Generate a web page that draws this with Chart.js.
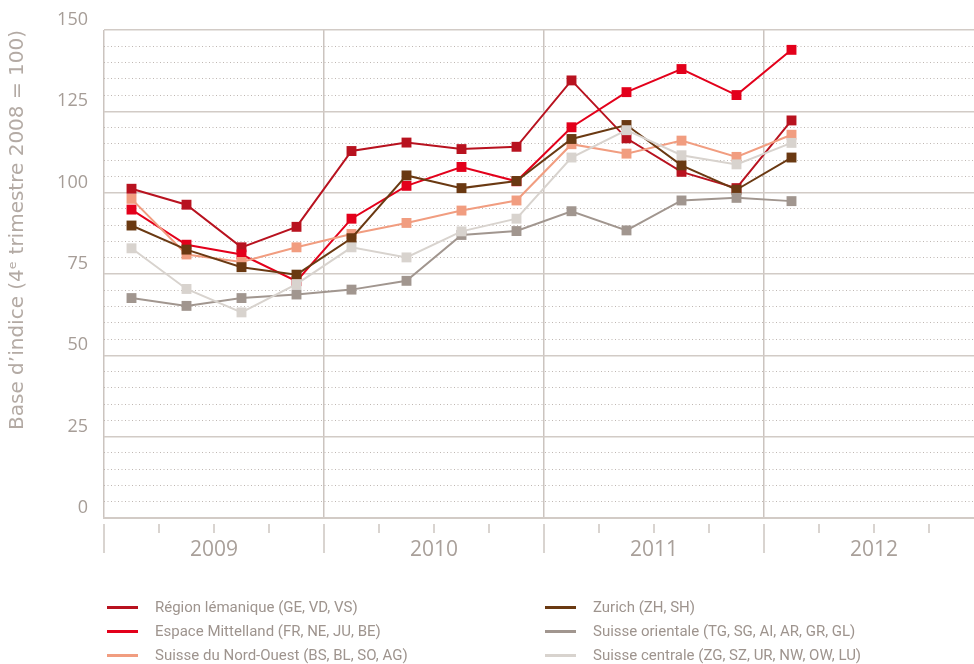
<!DOCTYPE html>
<html>
<head>
<meta charset="utf-8">
<script src="https://cdn.jsdelivr.net/npm/chart.js@4"></script>
<style>
  html, body { margin: 0; padding: 0; background: #fff; overflow: hidden; }
  #wrap { position: absolute; left: 0; top: 0; width: 974px; height: 570px; }
  #legend { position: absolute; left: 0; top: 0; width: 974px; height: 664px; pointer-events: none; }
  .item { position: absolute; height: 20px; line-height: 20px; white-space: nowrap;
          font-family: "Roboto", sans-serif; font-size: 15px; color: #9e948e; }
  .item .swatch { position: absolute; left: 0; top: 9px; width: 31px; height: 3px; }
  .item .txt { position: absolute; left: 48px; top: 0; }
</style>
</head>
<body>
<div id="wrap"><canvas id="chart" width="974" height="570"></canvas></div>
<div id="legend"></div>
<script>
// quarters 2009 T1 .. 2012 T1
var quarters = ['2009-T1','2009-T2','2009-T3','2009-T4','2010-T1','2010-T2','2010-T3','2010-T4',
                '2011-T1','2011-T2','2011-T3','2011-T4','2012-T1'];
var years = ['2009', '2010', '2011', '2012'];

var lemanique  = [101.2, 96.3, 83.2, 89.5, 112.8, 115.4, 113.4, 114.1, 134.5, 116.7, 106.4, 101.4, 122.2];
var mittelland = [94.8, 84.0, 81.0, 72.8, 92.0, 102.1, 107.9, 103.5, 120.1, 130.9, 138.0, 130.0, 143.9];
var nordOuest  = [98.1, 81.0, 78.7, 83.2, 87.3, 90.7, 94.5, 97.6, 114.9, 112.0, 116.0, 111.0, 117.8];
var zurich     = [89.9, 82.5, 77.1, 74.8, 86.0, 105.3, 101.4, 103.6, 116.5, 120.8, 108.4, 100.9, 110.8];
var orientale  = [67.6, 65.2, 67.6, 68.7, 70.2, 72.9, 87.0, 88.2, 94.3, 88.4, 97.6, 98.4, 97.4];
var centrale   = [82.9, 70.4, 63.2, 71.9, 83.2, 80.1, 88.1, 92.0, 110.8, 119.2, 111.5, 108.7, 115.3];

var seriesNames = ['Région lémanique (GE, VD, VS)', 'Espace Mittelland (FR, NE, JU, BE)',
  'Suisse du Nord-Ouest (BS, BL, SO, AG)', 'Zurich (ZH, SH)',
  'Suisse orientale (TG, SG, AI, AR, GR, GL)', 'Suisse centrale (ZG, SZ, UR, NW, OW, LU)'];
var seriesColors = ['#b8121f', '#e3001b', '#f19d80', '#6a3912', '#a1968f', '#d8d3ce'];
var seriesValues = [lemanique, mittelland, nordOuest, zurich, orientale, centrale];

function toPoints(vals) {
  return vals.map(function (v, i) { return { x: i + 0.5, y: v }; });
}

var datasets = seriesValues.map(function (vals, k) {
  return {
    label: seriesNames[k],
    data: toPoints(vals),
    borderColor: seriesColors[k],
    backgroundColor: seriesColors[k],
    borderWidth: 2,
    pointStyle: 'rect',
    pointRadius: 7,
    pointBorderWidth: 0,
    pointBackgroundColor: seriesColors[k],
    order: 6 - k
  };
});

var quarterTicks = {
  id: 'quarterTicks',
  afterDraw: function (chart) {
    var xs = chart.scales.x, ctx = chart.ctx, b = chart.chartArea.bottom;
    ctx.save();
    ctx.strokeStyle = '#cdc6c1';
    ctx.lineWidth = 1.5;
    for (var q = 0; q <= 16; q++) {
      var x = xs.getPixelForValue(q);
      if (x > chart.width + 2) break;
      ctx.beginPath();
      ctx.moveTo(x, b + 6);
      ctx.lineTo(x, q % 4 === 0 ? b + 35 : b + 15);
      ctx.stroke();
    }
    ctx.restore();
  }
};

var chart = new Chart(document.getElementById('chart').getContext('2d'), {
  type: 'line',
  data: { datasets: datasets },
  plugins: [quarterTicks],
  options: {
    responsive: false,
    animation: false,
    layout: { autoPadding: false, padding: { top: 30, left: 0, right: 0, bottom: 0 } },
    plugins: { legend: { display: false }, tooltip: { enabled: false } },
    scales: {
      x: {
        type: 'linear',
        min: 0,
        max: (974 - 104) / 55,
        afterBuildTicks: function (scale) {
          scale.ticks = [0, 2, 4, 6, 8, 10, 12, 14].map(function (v) { return { value: v }; });
        },
        afterFit: function (scale) {
          scale.height = 52;
          scale.paddingLeft = 0;
          scale.paddingRight = 0;
        },
        grid: {
          drawTicks: false,
          lineWidth: 1.5,
          color: function (c) {
            return c.tick && c.tick.value % 4 === 0 ? '#cbc4bf' : 'rgba(0,0,0,0)';
          }
        },
        border: { display: true, color: '#d2cbc6', width: 2 },
        ticks: {
          autoSkip: false,
          maxRotation: 0,
          padding: 19,
          color: '#a9a09a',
          font: { family: 'Open Sans', size: 21 },
          callback: function (v) { return v % 4 === 2 ? years[(v - 2) / 4] : ''; }
        }
      },
      y: {
        min: 0,
        max: 150,
        afterFit: function (scale) { scale.width = 104; },
        ticks: {
          stepSize: 5,
          autoSkip: false,
          maxTicksLimit: 100,
          padding: 16,
          labelOffset: -10,
          color: '#a69d97',
          font: { family: 'Open Sans', size: 18 },
          callback: function (v) { return v % 25 === 0 ? v : ''; }
        },
        grid: {
          drawTicks: false,
          color: function (c) {
            return c.tick && c.tick.value % 25 === 0 ? '#d2cbc6' : '#bfb7b2';
          },
          lineWidth: function (c) {
            return c.tick && c.tick.value % 25 === 0 ? 1.5 : 1;
          }
        },
        border: {
          display: false,
          dash: function (c) {
            return c.tick && c.tick.value % 25 !== 0 ? [1, 2.5] : [];
          }
        },
        title: {
          display: true,
          text: 'Base d\u2019indice (4\u1d49 trimestre 2008 = 100)',
          align: 'end',
          color: '#b3aaa4',
          font: { family: 'DejaVu Sans', size: 20 },
          padding: { top: 6, bottom: 0 }
        }
      }
    }
  }
});

// legend: two columns, three rows
var legendCols = [107, 545];
var legendRows = [597, 621, 645];
var order = [0, 3, 1, 4, 2, 5];
var leg = document.getElementById('legend');
order.forEach(function (k, n) {
  var col = n % 2, row = Math.floor(n / 2);
  var item = document.createElement('div');
  item.className = 'item';
  item.style.left = legendCols[col] + 'px';
  item.style.top = legendRows[row] + 'px';
  var sw = document.createElement('span');
  sw.className = 'swatch';
  sw.style.background = chart.data.datasets[k].borderColor;
  var tx = document.createElement('span');
  tx.className = 'txt';
  tx.textContent = chart.data.datasets[k].label;
  item.appendChild(sw);
  item.appendChild(tx);
  leg.appendChild(item);
});
</script>
</body>
</html>
